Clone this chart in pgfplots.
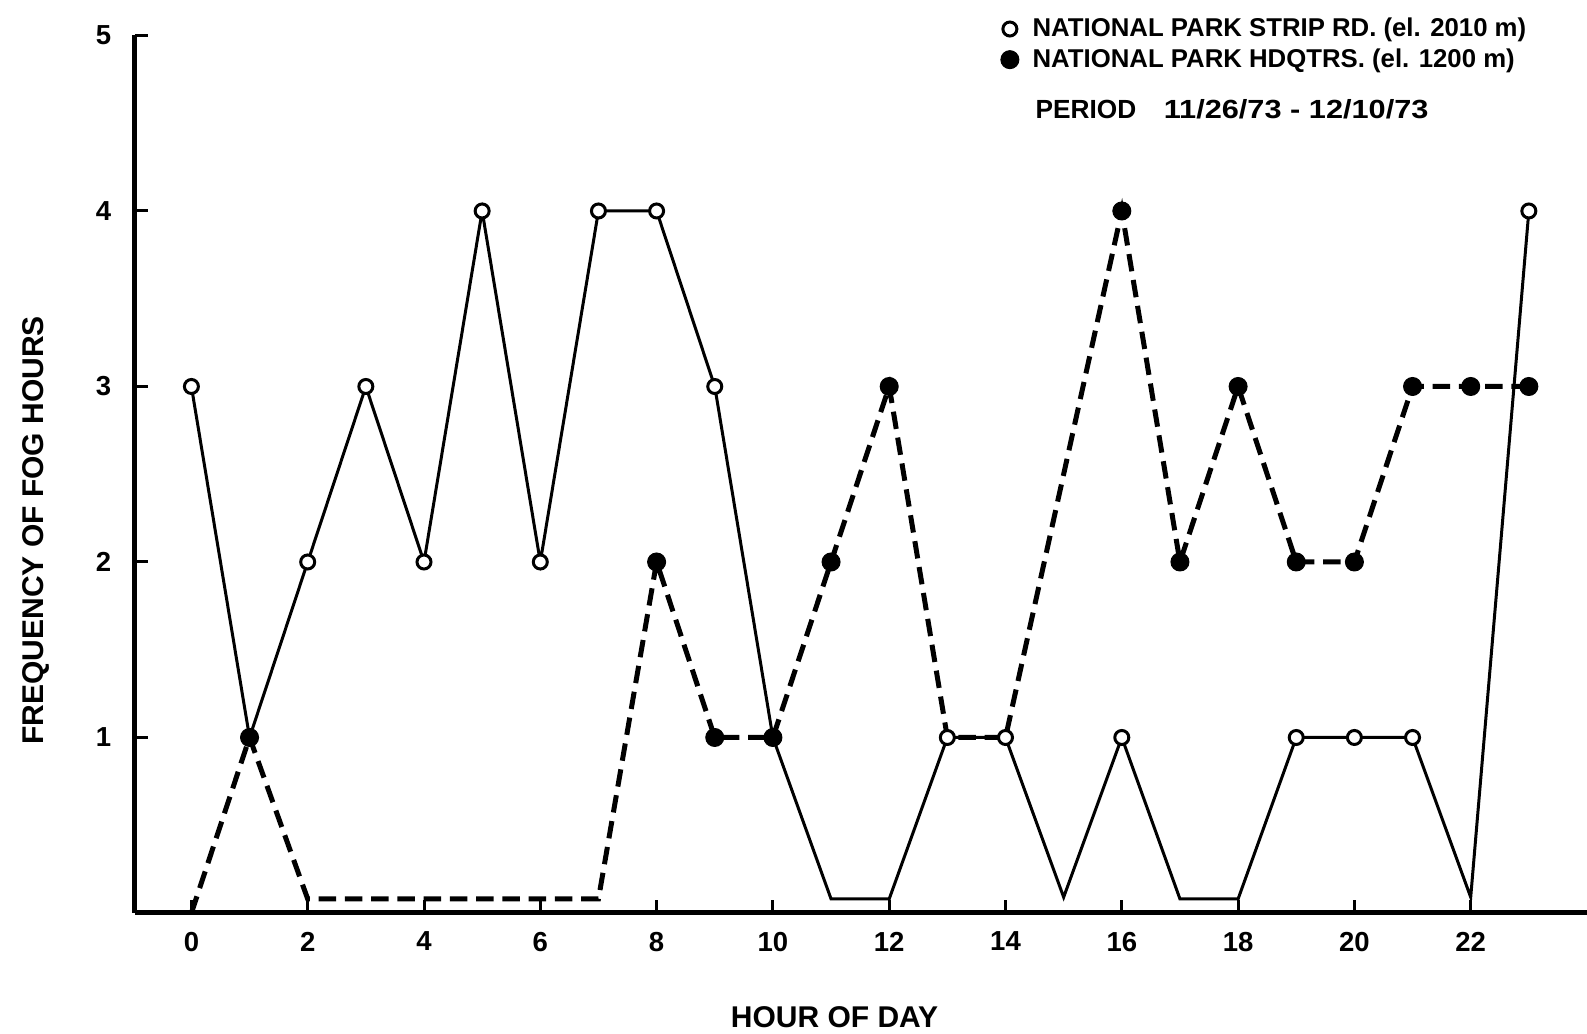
\documentclass[border=0pt]{standalone}
\usepackage{fontspec}
\setmainfont{Liberation Sans}
\usepackage{graphicx}
\usepackage{pgfplots}
\usepackage{pgfplotstable}
\pgfplotsset{compat=1.18}

\pgfplotstableread{
hour freq
0 3
1 1
2 2
3 3
4 2
5 4
6 2
7 4
8 4
9 3
10 1
11 0.08
12 0.08
13 1
14 1
15 0.09
16 1
17 0.08
18 0.08
19 1
20 1
21 1
22 0.09
23 4
}\strip

\pgfplotstableread{
hour freq
0 0
1 1
2 0.08
3 0.08
4 0.08
5 0.08
6 0.08
7 0.08
8 2
9 1
10 1
11 2
12 3
13 1
14 1
16 4
17 2
18 3
19 2
20 2
21 3
22 3
23 3
}\hdq

\begin{document}
\begin{tikzpicture}
\begin{axis}[
  name=ax,
  scale only axis,
  width=580.8pt, height=351pt,
  xmin=-0.97, xmax=24, ymin=0, ymax=5,
  axis x line*=bottom, axis y line*=left,
  axis line style={line width=2pt},
  xtick={0,2,...,22}, ytick={1,2,3,4,5},
  tick align=inside, major tick length=5pt,
  tick style={line width=1.2pt, black},
  /pgf/number format/assume math mode=true,
  ticklabel style={font=\fontsize{11}{13}\selectfont\bfseries},
  yticklabel style={xshift=-6pt},
  xticklabel style={yshift=-4pt},
  clip=false,
  legend style={at={(0.596,1.025)}, anchor=north west, draw=none, fill=none,
    font=\fontsize{10.3}{12}\selectfont\bfseries, row sep=0.3pt, inner sep=0pt,
    nodes={inner sep=1.5pt}},
  legend cell align=left,
]
\addplot[black, line width=1.2pt, forget plot] table[x=hour, y=freq] {\strip};
\addplot[black, line width=2pt, dash pattern=on 7pt off 3.5pt, forget plot] table[x=hour, y=freq] {\hdq};
\addplot[only marks, mark=*, mark size=2.8pt, mark options={line width=1.2pt, draw=black, fill=white},
  restrict y to domain=0.5:5] table[x=hour, y=freq] {\strip};
\addlegendentry{\hspace*{4pt}NATIONAL PARK STRIP RD. (el. 2010 m)}
\addplot[only marks, mark=*, mark size=3.6pt, mark options={draw=black, fill=black},
  restrict y to domain=0.5:5,
  x filter/.expression={(x==13 || x==14) ? nan : x}] table[x=hour, y=freq] {\hdq};
\addlegendentry{\hspace*{4pt}NATIONAL PARK HDQTRS. (el. 1200 m)}
\node[anchor=west, font=\fontsize{10.5}{13}\selectfont\bfseries, inner sep=0pt] at (axis cs:14.51,4.58) {PERIOD\hspace{11pt}\scalebox{1.17}[1]{11/26/73 - 12/10/73}};
\node[rotate=90, font=\fontsize{12}{14}\selectfont\bfseries] at (axis cs:-2.68,2.18) {FREQUENCY OF FOG HOURS};
\node[font=\fontsize{12}{14}\selectfont\bfseries] at (axis cs:11.06,-0.593) {HOUR OF DAY};
\end{axis}
\pgfresetboundingbox
\path[use as bounding box] (ax.south west) ++(-54pt,-48.4pt) rectangle ++(634.8pt,413.6pt);
\end{tikzpicture}
\end{document}
